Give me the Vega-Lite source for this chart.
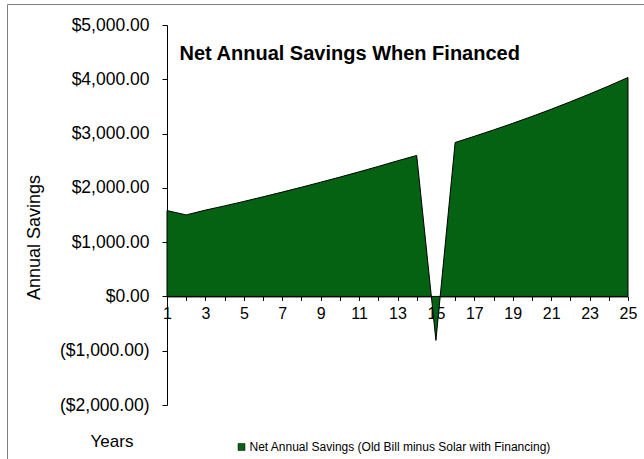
{
  "$schema": "https://vega.github.io/schema/vega-lite/v6.json",
  "width": 637,
  "height": 455,
  "autosize": {"type": "none"},
  "padding": {"left": 7, "top": 4, "right": 0, "bottom": 0},
  "background": "white",
  "config": {
    "view": {"stroke": null},
    "font": "Liberation Sans",
    "axis": {"grid": false}
  },
  "title": {
    "text": "Net Annual Savings When Financed",
    "anchor": "start",
    "frame": "group",
    "fontSize": 20,
    "fontWeight": "bold",
    "font": "Liberation Sans",
    "color": "black",
    "baseline": "alphabetic",
    "offset": 0,
    "dx": 172.5,
    "dy": 76
  },
  "data": {
    "values": [
      {"year": 1, "savings": 1581},
      {"year": 2, "savings": 1502},
      {"year": 3, "savings": 1590},
      {"year": 4, "savings": 1668},
      {"year": 5, "savings": 1750},
      {"year": 6, "savings": 1835},
      {"year": 7, "savings": 1922},
      {"year": 8, "savings": 2012},
      {"year": 9, "savings": 2104},
      {"year": 10, "savings": 2198},
      {"year": 11, "savings": 2295},
      {"year": 12, "savings": 2395},
      {"year": 13, "savings": 2498},
      {"year": 14, "savings": 2597},
      {"year": 15, "savings": -810},
      {"year": 16, "savings": 2836},
      {"year": 17, "savings": 2949},
      {"year": 18, "savings": 3067},
      {"year": 19, "savings": 3189},
      {"year": 20, "savings": 3316},
      {"year": 21, "savings": 3448},
      {"year": 22, "savings": 3586},
      {"year": 23, "savings": 3729},
      {"year": 24, "savings": 3878},
      {"year": 25, "savings": 4033}
    ]
  },
  "layer": [
    {
      "mark": {"type": "area", "stroke": "black", "strokeWidth": 1, "interpolate": "linear"},
      "encoding": {
        "x": {
          "field": "year",
          "type": "quantitative",
          "scale": {"domain": [1, 25], "range": [160, 621], "nice": false, "zero": false},
          "axis": {
            "orient": "bottom",
            "offset": -162.57,
            "values": [1,2,3,4,5,6,7,8,9,10,11,12,13,14,15,16,17,18,19,20,21,22,23,24,25],
            "labelExpr": "datum.value % 2 == 1 ? datum.label : ''",
            "format": "d",
            "tickSize": 4,
            "tickColor": "black",
            "domainColor": "black",
            "labelColor": "black",
            "labelFontSize": 16,
            "labelPadding": 5,
            "labelFlush": false,
            "labelOverlap": false,
            "title": "Years",
            "titleFontSize": 17,
            "titleFontWeight": "normal",
            "titleColor": "black",
            "titleAlign": "center",
            "titleBaseline": "middle",
            "titleX": 104.5,
            "titleY": 145
          }
        },
        "y": {
          "field": "savings",
          "type": "quantitative",
          "scale": {"domain": [-2000, 5000], "range": [401, 21], "nice": false, "zero": false},
          "axis": {
            "orient": "left",
            "offset": -160,
            "values": [-2000, -1000, 0, 1000, 2000, 3000, 4000, 5000],
            "labelExpr": "datum.value < 0 ? '($' + format(-datum.value, ',.2f') + ')' : '$' + format(datum.value, ',.2f')",
            "tickSize": 5,
            "tickColor": "black",
            "domainColor": "black",
            "labelColor": "black",
            "labelFontSize": 17.5,
            "labelPadding": 13,
            "labelFlush": false,
            "labelOverlap": false,
            "title": "Annual Savings",
            "titleFontSize": 18,
            "titleFontWeight": "normal",
            "titleColor": "black",
            "titleAngle": 270,
            "titleAlign": "center",
            "titleBaseline": "middle",
            "titleX": -133,
            "titleY": 233
          }
        },
        "y2": {"datum": 0},
        "color": {
          "datum": "Net Annual Savings (Old Bill minus Solar with Financing)",
          "scale": {"range": ["#046212"]},
          "legend": {
            "orient": "none",
            "legendX": 228.5,
            "legendY": 437,
            "title": null,
            "padding": 0,
            "symbolType": "square",
            "symbolSize": 49,
            "symbolStrokeColor": "black",
            "symbolStrokeWidth": 0.5,
            "symbolOpacity": 1,
            "labelFontSize": 12,
            "labelColor": "black",
            "labelOffset": 2,
            "labelLimit": 0
          }
        }
      }
    },
    {
      "mark": {"type": "point", "opacity": 0},
      "encoding": {
        "x": {
          "field": "year",
          "type": "quantitative",
          "scale": {"domain": [1, 25], "range": [0, 637], "nice": false, "zero": false},
          "axis": {"orient": "top", "labels": false, "ticks": false, "title": null, "domainColor": "#808080", "domainWidth": 1}
        },
        "y": {
          "field": "savings",
          "type": "quantitative",
          "scale": {"domain": [-2000, 5000], "range": [455, 0], "nice": false, "zero": false},
          "axis": null
        }
      }
    },
    {
      "mark": {"type": "point", "opacity": 0},
      "encoding": {
        "x": {
          "field": "year",
          "type": "quantitative",
          "scale": {"domain": [1, 25], "range": [0, 637], "nice": false, "zero": false},
          "axis": null
        },
        "y": {
          "field": "savings",
          "type": "quantitative",
          "scale": {"domain": [-2000, 5000], "range": [455, 0], "nice": false, "zero": false},
          "axis": {"orient": "left", "offset": 0, "labels": false, "ticks": false, "title": null, "domainColor": "#808080", "domainWidth": 1}
        }
      }
    }
  ],
  "resolve": {
    "scale": {"x": "independent", "y": "independent"},
    "axis": {"x": "independent", "y": "independent"}
  }
}
